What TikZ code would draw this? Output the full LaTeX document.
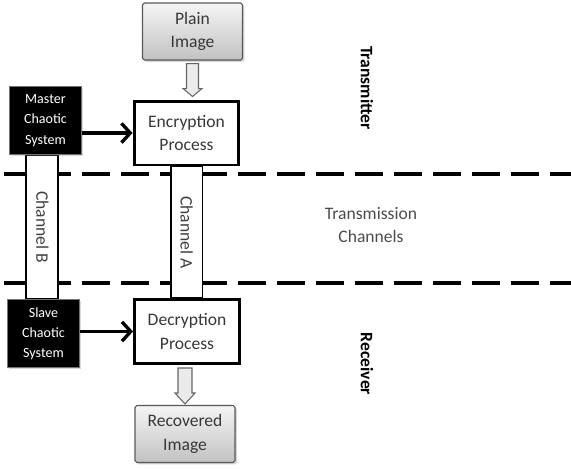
\documentclass[tikz,border=0pt]{standalone}
\usepackage{fontspec}
\setmainfont{Carlito}
\usetikzlibrary{arrows.meta, calc, shadows, backgrounds, positioning}

\begin{document}
\begin{tikzpicture}[x = 0.02cm, y = -0.02cm,
    box/.style     = {rectangle, align = center, inner sep = 0pt,
                      font = \fontsize{10}{13.5}\selectfont, text = black!78},
    image/.style   = {box, draw = black!65, line width = 0.6pt, rounded corners = 1pt,
                      top color = black!4, bottom color = black!24,
                      minimum width = 2.0cm, minimum height = 1.14cm,
                      drop shadow = {shadow xshift = 1pt, shadow yshift = -1pt, opacity = 0.35}},
    process/.style = {box, draw, fill = white, line width = 1.7pt,
                      minimum width = 2.1cm, minimum height = 1.28cm},
    chaotic/.style = {box, fill = black, draw = black!55, line width = 0.8pt, text = white,
                      font = \fontsize{8}{11.5}\selectfont,
                      minimum width = 1.44cm, minimum height = 1.36cm,
                      drop shadow = {shadow xshift = 1pt, shadow yshift = -1pt, opacity = 0.3}},
    channel/.style = {draw, fill = white, line width = 0.6pt},
    chlabel/.style = {font = \fontsize{10}{12}\selectfont, text = black!75, rotate = -90},
    border/.style  = {line width = 2.4pt, dash pattern = on 0.56cm off 0.22cm},
    link/.style    = {-{Straight Barb[length = 5pt, width = 11pt]}, line width = 1.9pt},
    hollow/.style  = {draw = black!60, fill = black!8, line width = 0.6pt},
    zone/.style    = {font = \fontsize{10}{12}\selectfont\bfseries, rotate = -90},
  ]
  \useasboundingbox (0,0) rectangle (571,468);

  % transmitter side
  \node[image]   (plain)  at (192.5,31.5) {Plain\\Image};
  \node[process] (enc)    at (186.5,133)  {Encryption\\Process};
  \node[chaotic] (master) at (45.5,120.5) {Master\\Chaotic\\System};

  % receiver side
  \node[chaotic] (slave)  at (43.5,333.5) {Slave\\Chaotic\\System};
  \node[process] (dec)    at (187,331.5)  {Decryption\\Process};
  \node[image]   (recov)  at (185,434)    {Recovered\\Image};

  % zone labels
  \node[zone] (tx) at (367,88)  {Transmitter};
  \node[zone] (rx) at (367,364) {Receiver};
  \node[box, text = black!70] (chan) at (371,225) {Transmission\\Channels};

  % dashed borders and channels behind the boxes
  \begin{scope}[on background layer]
    \draw[border] (4,174) -- (575,174);
    \draw[border] (4,283) -- (575,283);
    \draw[channel] ($(master.south)+(-19.5,0)$) rectangle ($(slave.north)+(14.5,0)$);
    \draw[channel] ($(enc.south)+(-15.5,0)$) rectangle ($(dec.north)+(15.5,0)$);
  \end{scope}
  \node[chlabel] (chB) at ($(master.south)!0.5!(slave.north)+(-2,0)$) {Channel B};
  \node[chlabel] (chA) at ($(enc.south)!0.5!(dec.north)$) {Channel A};

  % key streams
  \draw[link] (master.east |- enc.west) -- (enc.west);
  \draw[link] (slave.east |- dec.west) -- (dec.west);

  % image flow
  \draw[hollow] ($(plain.south)+(-6,3)$) -- ($(plain.south)+(6,3)$)
    -- ($(plain.south)+(6,28)$) -- ($(plain.south)+(9.5,28)$)
    -- ($(plain.south |- enc.north)+(0,-3)$)
    -- ($(plain.south)+(-9.5,28)$) -- ($(plain.south)+(-6,28)$) -- cycle;
  \draw[hollow] ($(recov.north |- dec.south)+(-7,3)$) -- ($(recov.north |- dec.south)+(7,3)$)
    -- ($(recov.north |- dec.south)+(7,28)$) -- ($(recov.north |- dec.south)+(10,28)$)
    -- ($(recov.north)+(0,-1)$)
    -- ($(recov.north |- dec.south)+(-10,28)$) -- ($(recov.north |- dec.south)+(-7,28)$) -- cycle;
\end{tikzpicture}
\end{document}
